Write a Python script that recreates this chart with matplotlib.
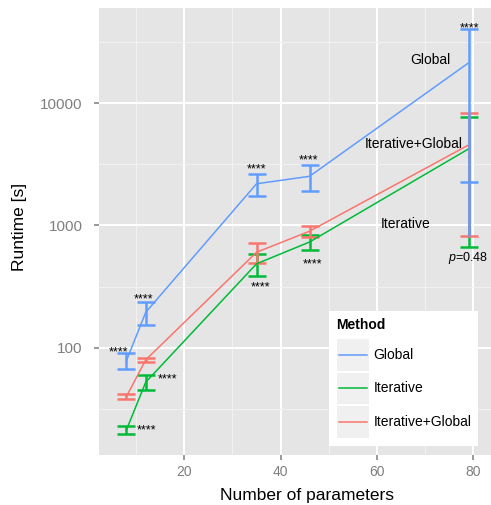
import matplotlib
matplotlib.use('Agg')
import matplotlib.pyplot as plt
from matplotlib.legend_handler import HandlerBase
from matplotlib.patches import Rectangle
from matplotlib.lines import Line2D
from matplotlib.ticker import FixedLocator, NullFormatter

plt.rcParams['font.family'] = ['Liberation Sans', 'DejaVu Sans']
plt.rcParams['mathtext.fontset'] = 'custom'
plt.rcParams['mathtext.it'] = 'Liberation Sans:italic'
plt.rcParams['mathtext.rm'] = 'Liberation Sans'

# ---------------- data ----------------
n_params = [8, 12, 35, 46, 79]
methods = ['Global', 'Iterative', 'Iterative+Global']
method_colors = ['#619CFF', '#00BA38', '#F8766D']
global_mean = [78.6, 195, 2193, 2523, 21350]
global_sd = [11.4, 42, 467, 627, 19100]
iter_mean = [21.3, 52.3, 486, 732, 4226]
iter_sd = [1.75, 7.1, 99, 107, 3553]
itglob_mean = [40, 79.6, 604, 897, 4549]
itglob_sd = [1.9, 3.2, 114, 98, 3736]

x_ticks = [20, 40, 60, 80]
x_minor = [10, 30, 50, 70]
y_ticks = [100, 1000, 10000]
y_tick_labels = ['100', '1000', '10000']
y_minor = [10 ** 1.5, 10 ** 2.5, 10 ** 3.5, 10 ** 4.5]

# significance annotations (text, x, y, ha)
ann_text = ['****', '****', '****', '****', '****', '****', '****', '****', '****', r'$p$=0.48']
ann_x = [8.4, 11.6, 34.9, 45.7, 79.2, 10.1, 14.5, 35.9, 46.7, 79.0]
ann_y = [86.3, 236, 2693, 3192, 38900, 20.1, 51.9, 294, 450, 513]
ann_ha = ['right', 'center', 'center', 'center', 'center', 'left', 'left', 'center', 'center', 'center']

# direct series labels
lab_text = ['Global', 'Iterative+Global', 'Iterative']
lab_x = [71.15, 67.69, 65.92]
lab_y = [20840, 4333, 959]

# ---------------- figure ----------------
W, H = 491, 505
fig = plt.figure(figsize=(W / 100, H / 100), dpi=100)
ax = fig.add_axes([99 / W, 1 - 454.5 / H, 392 / W, 446.2 / H])
ax.set_facecolor('#E5E5E5')
for s in ax.spines.values():
    s.set_visible(False)

means = [global_mean, iter_mean, itglob_mean]
sds = [global_sd, iter_sd, itglob_sd]

# error bars: iterative ones first, global on top
for i in [1, 2, 0]:
    z = 4 if i == 0 else 3
    ax.errorbar(n_params, means[i], yerr=sds[i], fmt='none', ecolor=method_colors[i],
                elinewidth=1.8, capsize=6.3, capthick=1.8, zorder=z)
# global vertical continuing down through the other bars at the last point
g_low = global_mean[-1] - global_sd[-1]
ig_low = itglob_mean[-1] - itglob_sd[-1]
ax.vlines(n_params[-1], ig_low, g_low, color=method_colors[0], lw=1.8, zorder=4)

for i in range(3):
    ax.plot(n_params, means[i], color=method_colors[i], lw=1.1, zorder=3.5)

for t, x, y, ha in zip(ann_text, ann_x, ann_y, ann_ha):
    ax.text(x, y, t, ha=ha, va='baseline', fontsize=9, color='black', zorder=6)

for t, x, y in zip(lab_text, lab_x, lab_y):
    ax.text(x, y, t, ha='center', va='baseline', fontsize=10, color='black', zorder=6)

ax.set_yscale('log')
ax.set_xlim(2.3, 83.67)
ax.set_ylim(13.4, 59700)
ax.xaxis.set_major_locator(FixedLocator(x_ticks))
ax.xaxis.set_minor_locator(FixedLocator(x_minor))
ax.yaxis.set_major_locator(FixedLocator(y_ticks))
ax.yaxis.set_minor_locator(FixedLocator(y_minor))
ax.set_yticklabels(y_tick_labels)
ax.yaxis.set_minor_formatter(NullFormatter())
ax.xaxis.set_minor_formatter(NullFormatter())

ax.grid(which='major', color='white', lw=1.4)
ax.grid(which='minor', color='#F2F2F2', lw=0.7)
ax.set_axisbelow(True)

ax.tick_params(which='major', length=3.4, width=1.1, color='#7F7F7F',
               labelcolor='#7F7F7F')
ax.tick_params(axis='x', which='major', pad=4.2, labelsize=10)
ax.tick_params(axis='y', which='major', pad=8.3, labelsize=11)
ax.tick_params(which='minor', length=0)

ax.set_xlabel('Number of parameters', fontsize=12.5, color='black')
ax.xaxis.set_label_coords((307.2 - 99) / 392, -0.0744)
ax.set_ylabel('Runtime [s]', fontsize=12.5, color='black')
ax.yaxis.set_label_coords((27 - 99) / 392, 0.5105)


class KeyHandler(HandlerBase):
    def create_artists(self, legend, orig_handle, xdescent, ydescent, width, height, fontsize, trans):
        x0, y0 = -xdescent, -ydescent
        inset = 0.75
        rect = Rectangle((x0 + inset, y0 + inset), width - 2 * inset, height - 2 * inset,
                         facecolor='#F0F0F0', edgecolor='none', transform=trans)
        line = Line2D([x0 + 0.08 * width, x0 + 0.92 * width], [y0 + height / 2] * 2,
                      color=orig_handle.get_color(), lw=1.1, transform=trans)
        return [rect, line]


handles = [Line2D([], [], color=c) for c in method_colors]
leg = ax.legend(handles, methods, loc='upper left',
                bbox_to_anchor=(329 / W, 1 - 311 / H), bbox_transform=fig.transFigure,
                borderaxespad=0, fontsize=10, title='Method',
                title_fontproperties={'weight': 'bold', 'size': 10},
                alignment='left', frameon=True, fancybox=False, framealpha=1,
                facecolor='white', edgecolor='none', borderpad=0.5,
                handlelength=2.42, handleheight=3.355, labelspacing=0.0,
                handletextpad=0.28, handler_map={Line2D: KeyHandler()})
leg.set_zorder(10)
leg._legend_box.sep = 4.3

fig.savefig('out.png', dpi=100)
